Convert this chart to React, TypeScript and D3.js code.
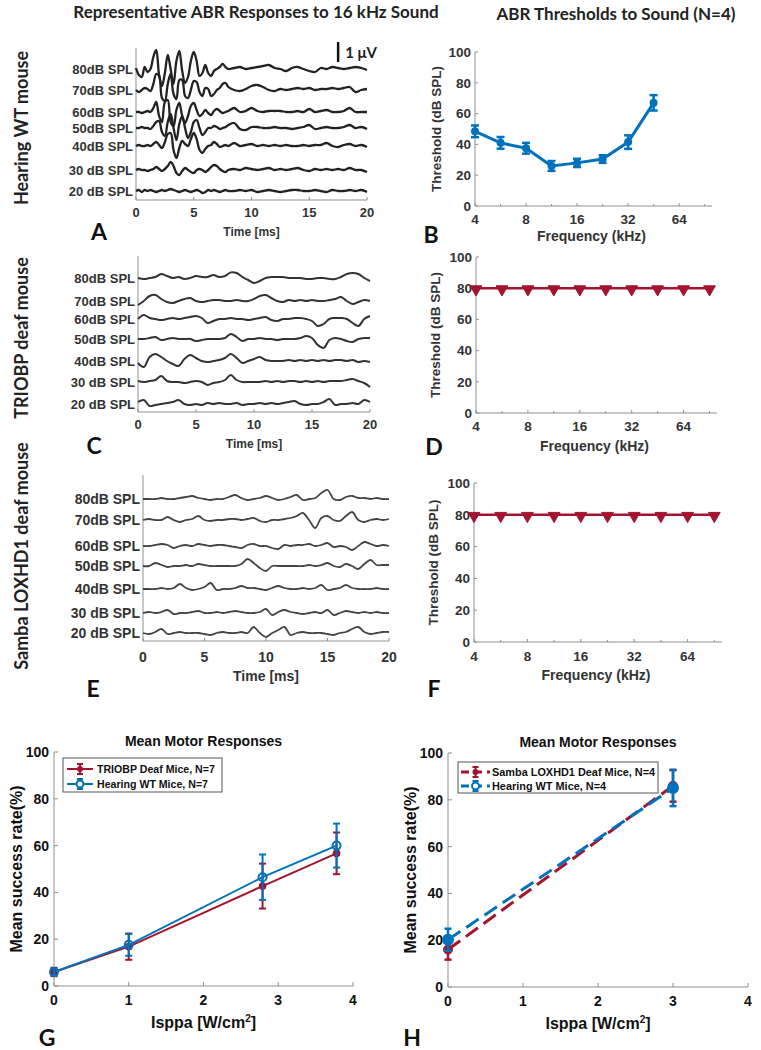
import React from "react";
import * as d3 from "d3";

// ---------- DATA ----------
const levelLabelsA = ["80dB SPL", "70dB SPL", "60dB SPL", "50dB SPL", "40dB SPL", "30 dB SPL", "20 dB SPL"];
const levelLabelsC = ["80dB SPL", "70dB SPL", "60dB SPL", "50dB SPL", "40dB SPL", "30 dB SPL", "20 dB SPL"];
const levelLabelsE = ["80dB SPL", "70dB SPL", "60dB SPL", "50dB SPL", "40dB SPL", "30 dB SPL", "20 dB SPL"];
const timeTicks = [0, 5, 10, 15, 20];

// trace stacking offsets (µV)
const offsetsA = [6.55, 5.5, 4.4, 3.6, 2.7, 1.5, 0.45];
const offsetsC = [6.7, 5.55, 4.65, 3.65, 2.55, 1.5, 0.4];
const offsetsE = [7.1, 6.05, 4.75, 3.75, 2.6, 1.4, 0.4];

const timeA = [0, 0.25, 0.5, 0.75, 1, 1.25, 1.5, 1.75, 2, 2.25, 2.5, 2.75, 3, 3.25, 3.5, 3.75, 4, 4.25, 4.5, 4.75, 5, 5.25, 5.5, 5.75, 6, 6.25, 6.5, 6.75, 7, 7.25, 7.5, 7.75, 8,
  8.5, 9, 9.5, 10, 10.5, 11, 11.5, 12, 12.5, 13, 13.5, 14, 14.5, 15, 15.5, 16, 16.5, 17, 17.5, 18, 18.5, 19, 19.5, 20];

const abrA80 = [0.05, -0.3, -0.4, 0.1, -0.15, 0, 0.6, 0.95, -0.3, -0.85, -0.2, 0.7, 0, -0.75, 0.4, 0.9, -0.1, -0.7, -0.4, 0.4, 0.85, 0.4, -0.35, -0.2, 0.2, -0.2, -0.35, -0.1, 0, 0.1, 0.25, 0.1, 0,
  0.05, 0.1, 0, 0.05, 0.1, 0.15, 0.2, 0.05, 0, -0.1, 0.05, 0.1, 0, -0.1, -0.15, 0.05, 0, 0.1, 0.05, 0, 0.05, 0.1, 0.05, -0.05];
const abrA70 = [0, -0.1, 0, 0.1, 0.05, -0.05, 0.3, 0.8, 0.7, -0.4, -0.55, 0.3, 0.8, -0.2, -0.45, 0.5, 0.5, -0.3, -0.4, 0, 0.45, 0.4, -0.1, -0.3, 0.1, 0.05, -0.3, -0.2, 0, 0.1, 0.3, 0.35, 0.15,
  0, -0.05, 0.05, 0.2, 0.25, 0.15, 0, -0.05, 0.05, 0, 0.05, 0.1, 0.05, 0.1, 0, 0.05, 0.05, 0.1, 0.05, 0.1, 0.15, -0.1, 0, 0.05];
const abrA60 = [0, 0, -0.05, 0, 0.05, 0, 0.2, 0.5, -0.2, -0.5, 0.5, 0.6, -0.5, -0.7, 0.1, 0.45, -0.2, -0.55, -0.2, 0.3, 0.45, 0.1, -0.2, -0.1, 0.1, -0.05, -0.15, 0.05, 0.15, 0.05, -0.05, 0, 0.05,
  0.2, 0, 0.05, 0.2, 0.05, 0, 0.05, 0.05, 0.05, 0, 0, 0.05, 0, 0.15, 0, 0.05, 0.1, 0, 0, 0.05, 0.2, 0, 0, 0];
const abrA50 = [0, 0, 0.05, 0, 0, -0.05, 0.1, 0.3, 0.35, -0.2, -0.4, 0.3, 0.7, 0, -0.6, 0.2, 0.6, 0, -0.5, -0.2, 0.3, 0.4, 0, -0.35, -0.2, 0, 0, 0.1, 0.05, -0.05, 0, 0.05, 0.15,
  0.25, -0.05, -0.1, 0.05, 0.05, 0, 0, 0.05, 0, 0, -0.05, 0, 0.05, 0.15, -0.05, 0, 0.05, 0, 0, 0.05, 0.15, 0, 0.05, -0.05];
const abrA40 = [0, 0.05, 0, 0, 0.05, 0, 0.1, 0.2, 0.05, -0.1, 0.2, 0.6, 0.65, -0.2, -0.6, -0.1, 0.25, 0.1, 0, 0.35, 0.65, 0.35, -0.2, -0.35, -0.15, 0, 0.05, 0.2, 0.1, -0.05, 0, 0.05, 0,
  0.15, 0, 0.05, 0.1, 0, 0.05, 0, 0.05, 0, 0.05, 0, 0, 0.05, 0, 0.05, 0.05, 0.15, 0, -0.05, 0.05, 0.1, 0, 0.05, -0.05];
const abrA30 = [0, 0.05, 0, 0, -0.05, 0, 0.05, 0.15, 0.05, -0.05, 0.05, 0.2, 0.4, 0.2, -0.15, -0.25, -0.05, 0.1, 0, -0.1, -0.15, 0, 0.05, 0, -0.1, 0, 0.15, 0.25, 0.2, 0.05, -0.05, -0.1, 0,
  0.05, 0, 0.1, 0.05, 0, 0.05, 0.1, 0, 0.05, 0, 0.05, 0.1, 0, -0.05, 0.05, 0, 0.05, 0, 0.05, 0, 0.1, 0, 0, -0.1];
const abrA20 = [0, 0.05, -0.05, 0.05, 0, 0.05, 0, -0.05, 0, 0.05, 0, 0.05, 0.1, 0.05, 0, -0.05, 0, 0.05, 0, -0.05, 0, 0.05, 0, -0.1, -0.05, 0.05, 0, 0.05, 0, -0.05, 0, 0.05, 0,
  0, 0.05, 0, 0.05, -0.05, 0, 0.05, 0, -0.05, 0, 0.05, 0.05, 0, 0, 0.05, 0, -0.05, 0.05, 0, 0, 0.05, 0, 0.05, -0.05];

const timeCE = [0, 0.5, 1, 1.5, 2, 2.5, 3, 3.5, 4, 4.5, 5, 5.5, 6, 6.5, 7, 7.5, 8, 8.5, 9, 9.5, 10, 10.5, 11, 11.5, 12, 12.5, 13, 13.5, 14, 14.5, 15, 15.5, 16, 16.5, 17, 17.5, 18, 18.5, 19, 19.5, 20];

const abrC80 = [0, -0.05, 0, 0.05, 0.2, 0.1, 0, 0.05, -0.05, 0, 0.1, 0.05, 0.05, 0.15, 0.05, 0.1, 0.28, 0.25, 0.05, -0.1, -0.25, -0.15, 0, 0.05, 0.05, 0.05, 0, 0, 0, -0.05, -0.05, 0, 0, -0.05, -0.05, 0.05, 0.2, 0.25, 0.2, 0, -0.15];
const abrC70 = [-0.2, 0, 0.25, 0.3, 0.1, -0.05, -0.1, 0, 0.1, 0.15, 0, -0.05, 0, 0.05, 0.05, 0, 0, 0.05, 0, 0, 0.1, 0.25, 0.3, 0.15, 0, -0.05, 0.05, 0, 0.05, 0, 0.05, 0, 0, 0.05, 0.1, 0.2, 0, -0.15, -0.05, 0.05, 0];
const abrC60 = [0, 0.2, 0.05, 0, -0.05, 0, 0.05, 0, 0.05, 0.1, 0.15, 0.05, -0.2, -0.1, 0, 0, 0.05, 0, 0, -0.05, 0, 0.05, 0.1, -0.05, -0.1, 0, 0, 0.05, 0.05, 0, -0.1, -0.35, -0.25, 0, 0.05, 0.05, 0, -0.2, -0.35, 0, 0.15];
const abrC50 = [0, 0, 0.05, 0.1, -0.05, 0, 0.05, 0, 0, 0, -0.1, -0.05, 0, 0, 0, 0.05, 0.25, 0.1, -0.1, 0, 0, 0.05, 0, 0, -0.05, 0, 0, 0, 0.05, 0.15, 0.05, -0.3, -0.45, -0.05, 0.05, 0, -0.1, -0.15, 0, 0.05, 0.05];
const abrC40 = [-0.1, -0.3, 0.2, 0.35, 0.2, 0, -0.15, -0.25, 0.1, 0.3, 0.15, 0, -0.05, 0, 0.05, 0.15, 0.35, 0.15, -0.1, 0, 0.1, 0.2, 0.05, 0, 0, 0, 0.05, 0, 0.05, 0, 0.05, 0, 0.05, 0, 0.05, 0.05, 0, 0.05, -0.05, 0, -0.05];
const abrC30 = [0.05, 0, 0.05, 0.1, 0.3, 0.05, 0, 0, -0.05, 0, 0.05, 0, -0.15, -0.05, 0, 0.1, 0.35, 0.1, 0, 0, 0, 0, 0.05, 0, 0.05, 0, 0.05, 0.05, 0, 0.05, 0, 0.05, 0, 0.05, 0.05, 0.05, 0.1, 0.15, 0.05, -0.05, -0.25];
const abrC20 = [0.1, 0.2, -0.1, -0.05, 0, 0.05, 0.1, 0.2, 0, -0.05, 0, -0.05, 0.05, 0, 0.05, 0, 0, 0.05, -0.05, 0, 0, 0.05, 0, 0.05, 0, 0.05, 0.1, 0.15, 0, -0.05, 0, 0, 0.1, 0.25, -0.05, 0, 0, 0.05, 0, 0.2, 0.1];

const abrE80 = [0, 0, 0, 0.05, 0, 0, 0.05, 0.1, 0.15, 0.05, 0, -0.05, 0, 0, 0.1, 0.2, 0.05, -0.05, 0, 0.05, 0.15, 0.05, -0.05, 0, 0.1, 0.2, -0.05, 0, 0.05, 0.3, 0.45, 0, -0.05, 0.1, 0.15, 0.05, 0.05, 0, 0.05, 0, 0];
const abrE70 = [0, 0.05, 0, 0, 0.15, 0, -0.1, 0, 0.05, 0.2, 0, -0.05, 0, 0, 0.05, 0.05, 0, 0.05, 0.1, -0.05, -0.1, 0, 0, 0.05, 0.1, 0.2, 0.35, 0, -0.4, 0.1, 0.2, 0, -0.05, 0.2, 0.4, 0, -0.1, 0, 0.05, 0, 0.05];
const abrE60 = [0, 0, 0.05, 0.1, 0.05, -0.1, 0, 0.05, 0, 0.1, 0.05, 0, 0.05, 0.05, 0, -0.05, -0.1, 0.05, 0.1, 0, 0, -0.1, -0.15, 0.05, 0, 0.05, 0.05, 0.1, 0, 0.05, 0.15, -0.05, 0, -0.05, -0.2, 0, 0.2, 0.1, 0, 0.05, 0];
const abrE50 = [0, 0, 0.15, 0.05, -0.05, 0, 0, 0.05, 0, 0.1, 0.05, 0, 0, 0, 0, 0, 0.1, 0.35, 0.15, -0.1, -0.25, 0, 0, 0, 0, 0, 0, 0.05, 0, 0.05, 0.15, 0, -0.05, 0.1, 0, -0.15, 0.1, 0.3, 0.05, 0.05, 0.05];
const abrE40 = [0, 0, 0, 0.05, 0, 0.05, 0.25, 0.05, -0.05, 0, 0.1, 0.3, -0.05, 0, 0, 0.05, 0.15, 0.05, 0.05, 0, -0.05, 0.05, 0.15, 0.05, 0, 0, 0.05, 0, 0.05, 0.2, -0.05, 0, 0.05, 0.2, 0.05, 0, 0, 0, 0.05, 0, 0];
const abrE30 = [0, 0.05, 0, 0.05, 0.15, -0.05, 0, 0, 0.05, 0.1, 0, 0, 0.05, 0, 0.05, 0.1, 0.05, 0, 0, 0.05, 0.2, -0.1, 0.05, 0.15, 0.05, 0, -0.05, 0, 0.05, 0, 0.15, -0.1, 0, 0.1, 0.05, 0, 0.05, 0, 0.05, 0, 0];
const abrE20 = [0, -0.05, 0.05, 0.2, -0.05, 0, 0.05, 0, 0, 0, -0.05, -0.1, 0, 0.05, 0, 0, 0.05, 0, 0.3, 0, -0.2, 0, 0.15, 0.3, -0.1, 0, 0.05, 0, 0, 0, -0.05, -0.1, 0, 0.05, 0.2, 0.3, 0.05, -0.05, 0, 0.05, 0.05];

// thresholds
const freqTicks = [4, 8, 16, 32, 64];
const freqMinor = [5.66, 11.31, 22.63, 45.25, 90.51];
const thrTicks = [0, 20, 40, 60, 80, 100];
const freqB = [4, 5.66, 8, 11.31, 16, 22.63, 32, 45.25];
const thrB = [48.5, 41, 37.5, 26, 28, 30.5, 41.5, 67];
const errB = [3.8, 3.8, 3.5, 3.2, 2.7, 2.5, 4.4, 5];
const freqDF = [4, 5.66, 8, 11.31, 16, 22.63, 32, 45.25, 64, 90.51];
const thrD = [80, 80, 80, 80, 80, 80, 80, 80, 80, 80];
const thrF = [80, 80, 80, 80, 80, 80, 80, 80, 80, 80];

// motor responses
const isppaTicks = [0, 1, 2, 3, 4];
const rateTicks = [0, 20, 40, 60, 80, 100];
const isppaG = [0, 1, 2.79, 3.78];
const deafG = [6, 16.8, 42.7, 56.7];
const deafErrG = [1.8, 5.6, 9.6, 8.9];
const wtG = [6, 17.6, 46.5, 60];
const wtErrG = [1.5, 4.7, 9.7, 9.4];
const seriesNamesG = ["TRIOBP Deaf Mice, N=7", "Hearing WT Mice, N=7"];
const isppaH = [0, 3];
const deafH = [16, 86];
const deafErrH = [4.3, 6.8];
const wtH = [20.2, 85];
const wtErrH = [4.7, 7.7];
const seriesNamesH = ["Samba LOXHD1 Deaf Mice, N=4", "Hearing WT Mice, N=4"];

// ---------- STYLE ----------
const ARIAL = "'Liberation Sans', Arial, sans-serif";
const CAL = "Lato, 'Open Sans', sans-serif";
const RED = "#A2142F";
const BLUE = "#0072BD";
const AXIS = "#8f8f8f";
const TXT = "#333";

type TraceProps = {
  times: number[]; traces: number[][]; offsets: number[]; labels: string[];
  left: number; right: number; top: number; bottom: number; vMax: number;
  labelSize: number; stroke: string; strokeWidth: number; tickLabelY: number; tickSize: number;
  xLabelY: number; xLabelSize: number;
};

function TracePanel(p: TraceProps) {
  const x = d3.scaleLinear().domain([0, 20]).range([p.left, p.right]);
  const y = d3.scaleLinear().domain([0, p.vMax]).range([p.bottom, p.top]);
  return (
    <g>
      <line x1={p.left} x2={p.left} y1={p.top} y2={p.bottom} stroke={AXIS} strokeWidth={1} />
      <line x1={p.left} x2={p.right} y1={p.bottom} y2={p.bottom} stroke={AXIS} strokeWidth={1} />
      {timeTicks.map((t) => (
        <g key={t}>
          <line x1={x(t)} x2={x(t)} y1={p.bottom} y2={p.bottom - 3} stroke={AXIS} />
          <text x={x(t)} y={p.tickLabelY} textAnchor="middle" fontFamily={ARIAL} fontWeight="bold" fontSize={p.tickSize} fill={TXT}>{t}</text>
        </g>
      ))}
      {p.traces.map((tr, k) => {
        const line = d3.line<number>()
          .x((_, i) => x(p.times[i]))
          .y((v) => y(p.offsets[k] + v))
          .curve(d3.curveCatmullRom.alpha(0.5));
        return <path key={k} d={line(tr) || ""} fill="none" stroke={p.stroke} strokeWidth={p.strokeWidth} strokeLinejoin="round" />;
      })}
      {p.labels.map((l, k) => (
        <text key={l} x={p.left - 3} y={y(p.offsets[k])} dy="0.35em" textAnchor="end" fontFamily={ARIAL} fontWeight="bold" fontSize={p.labelSize} fill={TXT}>{l}</text>
      ))}
      <text x={x(10)} y={p.xLabelY} textAnchor="middle" fontFamily={ARIAL} fontWeight="bold" fontSize={p.xLabelSize} fill={TXT}>Time [ms]</text>
    </g>
  );
}

type ThrProps = {
  left: number; right: number; top: number; bottom: number;
  freqs: number[]; thr: number[]; err?: number[]; color: string; triangle: boolean;
  tickLabelY: number; yLabelX: number; xLabelY: number;
};

function ThresholdPanel(p: ThrProps) {
  const x = d3.scaleLog().base(2).domain([4, 100]).range([p.left, p.right]);
  const y = d3.scaleLinear().domain([0, 100]).range([p.bottom, p.top]);
  const line = d3.line<number>().x((_, i) => x(p.freqs[i])).y((v) => y(v));
  const tri = d3.symbol().type(d3.symbolTriangle).size(60)() || "";
  return (
    <g>
      <line x1={p.left} x2={p.left} y1={p.top} y2={p.bottom} stroke={AXIS} />
      <line x1={p.left} x2={p.right} y1={p.bottom} y2={p.bottom} stroke={AXIS} />
      {thrTicks.map((t) => (
        <g key={t}>
          <line x1={p.left} x2={p.left + 3} y1={y(t)} y2={y(t)} stroke={AXIS} />
          <text x={p.left - 4} y={y(t)} dy="0.35em" textAnchor="end" fontFamily={ARIAL} fontWeight="bold" fontSize={13.5} fill={TXT}>{t}</text>
        </g>
      ))}
      {freqTicks.map((f) => (
        <g key={f}>
          <line x1={x(f)} x2={x(f)} y1={p.bottom} y2={p.bottom - 3} stroke={AXIS} />
          <text x={x(f)} y={p.tickLabelY} textAnchor="middle" fontFamily={ARIAL} fontWeight="bold" fontSize={13.5} fill={TXT}>{f}</text>
        </g>
      ))}
      {freqMinor.map((f) => (
        <line key={f} x1={x(f)} x2={x(f)} y1={p.bottom} y2={p.bottom - 2} stroke={AXIS} />
      ))}
      <text transform={`translate(${p.yLabelX},${(p.top + p.bottom) / 2}) rotate(-90)`} textAnchor="middle" fontFamily={ARIAL} fontWeight="bold" fontSize={13.5} fill={TXT}>Threshold (dB SPL)</text>
      <text x={(p.left + p.right) / 2 - 2} y={p.xLabelY} textAnchor="middle" fontFamily={ARIAL} fontWeight="bold" fontSize={14} fill={TXT}>Frequency (kHz)</text>
      <path d={line(p.thr) || ""} fill="none" stroke={p.color} strokeWidth={p.triangle ? 2.5 : 3} />
      {p.err && p.thr.map((v, i) => {
        const e = p.err![i];
        const cx = x(p.freqs[i]);
        return (
          <g key={i} stroke={p.color} strokeWidth={2.5}>
            <line x1={cx} x2={cx} y1={y(v - e)} y2={y(v + e)} />
            <line x1={cx - 4} x2={cx + 4} y1={y(v - e)} y2={y(v - e)} />
            <line x1={cx - 4} x2={cx + 4} y1={y(v + e)} y2={y(v + e)} />
            <circle cx={cx} cy={y(v)} r={4} fill={p.color} stroke="none" />
          </g>
        );
      })}
      {p.triangle && p.thr.map((v, i) => (
        <path key={i} d={tri} transform={`translate(${x(p.freqs[i])},${y(v) + 1}) rotate(180)`} fill={p.color} stroke={p.color} strokeWidth={1} />
      ))}
    </g>
  );
}

type Series = { xs: number[]; ys: number[]; err: number[]; color: string; open: boolean; dashed: boolean; name: string };
type MotorProps = {
  left: number; right: number; top: number; bottom: number; series: Series[];
  legend: { x: number; y: number; w: number; h: number; rowY: number[]; lineX0: number; lineX1: number; textX: number; size: number };
  yLabelX: number;
};

function MotorPanel(p: MotorProps) {
  const x = d3.scaleLinear().domain([0, 4]).range([p.left, p.right]);
  const y = d3.scaleLinear().domain([0, 100]).range([p.bottom, p.top]);
  const cx = (p.left + p.right) / 2;
  const marker = (s: Series, mx: number, my: number, big: boolean) =>
    s.open
      ? <circle cx={mx} cy={my} r={big ? 5 : 4} fill={s.dashed ? s.color : "#fff"} fillOpacity={s.dashed ? 1 : 0} stroke={s.color} strokeWidth={2} />
      : <circle cx={mx} cy={my} r={big ? 4.5 : 3.5} fill={s.color} stroke={s.color} strokeWidth={1} />;
  return (
    <g>
      <line x1={p.left} x2={p.left} y1={p.top} y2={p.bottom} stroke={AXIS} />
      <line x1={p.left} x2={p.right} y1={p.bottom} y2={p.bottom} stroke={AXIS} />
      {rateTicks.map((t) => (
        <g key={t}>
          <line x1={p.left} x2={p.left + 4} y1={y(t)} y2={y(t)} stroke={AXIS} />
          <text x={p.left - 5} y={y(t)} dy="0.35em" textAnchor="end" fontFamily={ARIAL} fontWeight="bold" fontSize={14} fill="#111">{t}</text>
        </g>
      ))}
      {isppaTicks.map((t) => (
        <g key={t}>
          <line x1={x(t)} x2={x(t)} y1={p.bottom} y2={p.bottom - 4} stroke={AXIS} />
          <text x={x(t)} y={p.bottom + 19} textAnchor="middle" fontFamily={ARIAL} fontWeight="bold" fontSize={14} fill="#111">{t}</text>
        </g>
      ))}
      <text x={cx} y={p.top - 6} textAnchor="middle" fontFamily={ARIAL} fontWeight="bold" fontSize={14} fill="#111">Mean Motor Responses</text>
      <text x={cx} y={p.bottom + 42} textAnchor="middle" fontFamily={ARIAL} fontWeight="bold" fontSize={16} fill="#111">
        Isppa [W/cm<tspan dy={-6} fontSize={10}>2</tspan><tspan dy={6}>]</tspan>
      </text>
      <text transform={`translate(${p.yLabelX},${(p.top + p.bottom) / 2}) rotate(-90)`} textAnchor="middle" fontFamily={ARIAL} fontWeight="bold" fontSize={16} fill="#111">Mean success rate(%)</text>
      {p.series.map((s, k) => {
        const line = d3.line<number>().x((_, i) => x(s.xs[i])).y((v) => y(v));
        return (
          <g key={k}>
            <path d={line(s.ys) || ""} fill="none" stroke={s.color} strokeWidth={s.dashed ? 3 : 2} strokeDasharray={s.dashed ? "15 7" : undefined} />
            {s.ys.map((v, i) => {
              const e = s.err[i];
              const px = x(s.xs[i]);
              return (
                <g key={i}>
                  <g stroke={s.color} strokeWidth={s.dashed ? 2.5 : 2}>
                    <line x1={px} x2={px} y1={y(v - e)} y2={y(v + e)} />
                    <line x1={px - 3.5} x2={px + 3.5} y1={y(v - e)} y2={y(v - e)} />
                    <line x1={px - 3.5} x2={px + 3.5} y1={y(v + e)} y2={y(v + e)} />
                  </g>
                  {marker(s, px, y(v), s.dashed)}
                </g>
              );
            })}
          </g>
        );
      })}
      <rect x={p.legend.x} y={p.legend.y} width={p.legend.w} height={p.legend.h} fill="#fff" stroke="#555" strokeWidth={1} />
      {p.series.map((s, k) => {
        const ly = p.legend.rowY[k];
        const mx = (p.legend.lineX0 + p.legend.lineX1) / 2;
        return (
          <g key={k}>
            <line x1={p.legend.lineX0} x2={p.legend.lineX1} y1={ly} y2={ly} stroke={s.color} strokeWidth={s.dashed ? 3 : 2} strokeDasharray={s.dashed ? "8 5" : undefined} />
            <g stroke={s.color} strokeWidth={2}>
              <line x1={mx} x2={mx} y1={ly - 5} y2={ly + 5} />
              <line x1={mx - 3} x2={mx + 3} y1={ly - 5} y2={ly - 5} />
              <line x1={mx - 3} x2={mx + 3} y1={ly + 5} y2={ly + 5} />
            </g>
            {s.open
              ? <circle cx={mx} cy={ly} r={3.5} fill="#fff" stroke={s.color} strokeWidth={2} />
              : <circle cx={mx} cy={ly} r={3} fill={s.color} />}
            <text x={p.legend.textX} y={ly} dy="0.35em" fontFamily={ARIAL} fontWeight="bold" fontSize={p.legend.size} fill="#111">{s.name}</text>
          </g>
        );
      })}
    </g>
  );
}

function SideLabel({ x, y, text }: { x: number; y: number; text: string }) {
  return <text transform={`translate(${x},${y}) rotate(-90)`} textAnchor="middle" fontFamily={CAL} fontWeight="bold" fontSize={18} fill="#222">{text}</text>;
}

function Letter({ x, y, text }: { x: number; y: number; text: string }) {
  return <text x={x} y={y} textAnchor="middle" fontFamily={CAL} fontWeight="bold" fontSize={23} fill="#111">{text}</text>;
}

export default function App() {
  return (
    <svg width={761} height={1050} style={{ position: "absolute", left: 0, top: 0, background: "#fff" }}>
      <rect x={0} y={0} width={761} height={1050} fill="#fff" />
      <text x={256} y={18} textAnchor="middle" fontFamily={CAL} fontWeight="bold" fontSize={17} fill="#222">Representative ABR Responses to 16 kHz Sound</text>
      <text x={616} y={20} textAnchor="middle" fontFamily={CAL} fontWeight="bold" fontSize={17} fill="#222">ABR Thresholds to Sound (N=4)</text>

      <SideLabel x={28} y={128} text="Hearing WT mouse" />
      <SideLabel x={28} y={338} text="TRIOBP deaf mouse" />
      <SideLabel x={28} y={556} text="Samba LOXHD1 deaf mouse" />

      <TracePanel times={timeA} traces={[abrA80, abrA70, abrA60, abrA50, abrA40, abrA30, abrA20]} offsets={offsetsA} labels={levelLabelsA}
        left={136} right={367} top={48} bottom={200} vMax={7.6} labelSize={13} stroke="#222" strokeWidth={2.3}
        tickLabelY={217} tickSize={13} xLabelY={236} xLabelSize={12} />
      {/* 1 µV scale bar */}
      {(() => {
        const x = d3.scaleLinear().domain([0, 20]).range([136, 367]);
        const y = d3.scaleLinear().domain([0, 7.6]).range([200, 48]);
        return (
          <g>
            <line x1={x(17.5)} x2={x(17.5)} y1={y(6.9)} y2={y(7.9)} stroke="#111" strokeWidth={2.5} />
            <text x={x(17.5) + 7} y={58} fontFamily={CAL} fontWeight="bold" fontSize={15} fill="#222">1 μV</text>
          </g>
        );
      })()}
      <Letter x={99} y={240} text="A" />

      <ThresholdPanel left={475} right={712} top={52} bottom={206} freqs={freqB} thr={thrB} err={errB} color={BLUE} triangle={false}
        tickLabelY={224} yLabelX={441} xLabelY={241} />
      <Letter x={431} y={243} text="B" />

      <TracePanel times={timeCE} traces={[abrC80, abrC70, abrC60, abrC50, abrC40, abrC30, abrC20]} offsets={offsetsC} labels={levelLabelsC}
        left={138} right={370} top={256} bottom={412} vMax={7.8} labelSize={13} stroke="#333" strokeWidth={2}
        tickLabelY={429} tickSize={13} xLabelY={448} xLabelSize={12} />
      <Letter x={94} y={454} text="C" />

      <ThresholdPanel left={476} right={717} top={257} bottom={413} freqs={freqDF} thr={thrD} color={RED} triangle={true}
        tickLabelY={431} yLabelX={440} xLabelY={451} />
      <Letter x={434} y={455} text="D" />

      <TracePanel times={timeCE} traces={[abrE80, abrE70, abrE60, abrE50, abrE40, abrE30, abrE20]} offsets={offsetsE} labels={levelLabelsE}
        left={143} right={389} top={475} bottom={641} vMax={8.3} labelSize={14} stroke="#444" strokeWidth={1.8}
        tickLabelY={662} tickSize={14} xLabelY={681} xLabelSize={14} />
      <Letter x={93} y={697} text="E" />

      <ThresholdPanel left={474} right={722} top={483} bottom={642} freqs={freqDF} thr={thrF} color={RED} triangle={true}
        tickLabelY={661} yLabelX={438} xLabelY={680} />
      <Letter x={434} y={697} text="F" />

      <MotorPanel left={54} right={353} top={752} bottom={986} yLabelX={22}
        series={[
          { xs: isppaG, ys: deafG, err: deafErrG, color: RED, open: false, dashed: false, name: seriesNamesG[0] },
          { xs: isppaG, ys: wtG, err: wtErrG, color: BLUE, open: true, dashed: false, name: seriesNamesG[1] },
        ]}
        legend={{ x: 63, y: 758, w: 159, h: 34, rowY: [769, 784], lineX0: 67, lineX1: 93, textX: 97, size: 10.6 }} />
      <Letter x={47} y={1046} text="G" />

      <MotorPanel left={448} right={748} top={753} bottom={987} yLabelX={416}
        series={[
          { xs: isppaH, ys: deafH, err: deafErrH, color: RED, open: false, dashed: true, name: seriesNamesH[0] },
          { xs: isppaH, ys: wtH, err: wtErrH, color: BLUE, open: true, dashed: true, name: seriesNamesH[1] },
        ]}
        legend={{ x: 458, y: 762, w: 200, h: 31, rowY: [772, 786], lineX0: 461, lineX1: 490, textX: 492, size: 10.9 }} />
      <Letter x={412} y={1046} text="H" />
    </svg>
  );
}
